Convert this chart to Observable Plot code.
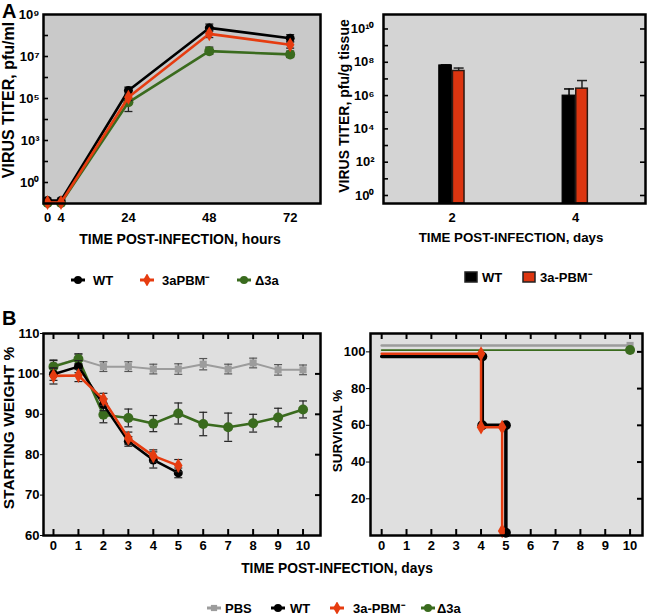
<!DOCTYPE html>
<html><head><meta charset="utf-8">
<script src="https://cdn.jsdelivr.net/npm/d3@7"></script>
<script src="https://cdn.jsdelivr.net/npm/@observablehq/plot@0.6"></script>
<style>
body{margin:0;background:#fff;font-family:"Liberation Sans",Arial,sans-serif;}
#fig{position:relative;width:650px;height:615px;overflow:hidden;background:#fff;}
.abs{position:absolute;font-weight:bold;color:#000;white-space:nowrap;line-height:1;}
</style></head><body><div id="fig"></div>
<script>
// ===== DATA =====
// Panel A left: virus titer in cell culture (pfu/ml)
const hoursA = [0, 4, 24, 48, 72];
const titerWT  = [1.4, 1.4, 2.4e5, 2.3e8, 7.4e7];
const titerPBM = [1.12, 1.12, 1.15e5, 1.2e8, 3.6e7];
const titerD3a = [1.05, 1.05, 6.6e4, 1.8e7, 1.26e7];
const loWT  = [null, null, 1.6e5, 1.6e8, 5e7];
const hiWT  = [null, null, 3.5e5, 3.5e8, 1.1e8];
const loPBM = [null, null, 8e4, 8e7, 2.5e7];
const hiPBM = [null, null, 1.6e5, 1.8e8, 5e7];
const loD3a = [null, null, 2.4e4, 1.26e7, 9e6];
const hiD3a = [null, null, 1e5, 2.8e7, 1.8e7];
const yTicksA1 = [1e9, 1e7, 1e5, 1e3, 1e1];
const yTickLabelsA1 = ["10⁹", "10⁷", "10⁵", "10³", "10⁰"];

// Panel A right: virus titer in lung (pfu/g tissue)
const daysA2 = [2, 4];
const organWT = [6.5e7, 1.0e6];
const organWThi = [7.0e7, 2.5e6];
const organPBM = [3.0e7, 2.6e6];
const organPBMhi = [4.5e7, 8.0e6];
const yTicksA2 = [1e10, 1e8, 1e6, 1e4, 1e2, 1e0];
const yTickLabelsA2 = ["10¹⁰", "10⁸", "10⁶", "10⁴", "10²", "10⁰"];

// Panel B left: starting weight %
const daysB = [0, 1, 2, 3, 4, 5, 6, 7, 8, 9, 10];
const weightPBS = [102.0, 103.7, 101.8, 101.8, 101.2, 101.2, 102.4, 101.2, 102.7, 101.0, 101.0];
const errPBS    = [1.5, 1.3, 1.2, 1.2, 1.2, 1.3, 1.4, 1.2, 1.2, 1.3, 1.2];
const weightD3a = [101.8, 103.7, 89.9, 89.1, 87.7, 90.2, 87.6, 86.8, 87.8, 89.2, 91.2];
const errD3a    = [1.5, 1.2, 2.0, 2.2, 2.0, 2.6, 2.9, 3.5, 2.2, 2.3, 2.1];
const weightWT  = [99.9, 101.8, 92.4, 83.3, 78.7, 75.5];
const errWT     = [1.5, 1.5, 1.5, 1.2, 2.0, 1.2];
const weightPBM = [99.5, 99.6, 93.7, 84.1, 79.7, 77.3];
const errPBM    = [2.0, 1.5, 1.5, 1.5, 1.5, 1.5];
const yTicksB1 = [60, 70, 80, 90, 100, 110];

// Panel B right: survival % (step curve vertices)
const survPBSDay = [0, 10],  survPBS = [103.5, 103.5];
const survD3aDay = [0, 10],  survD3a = [101, 101];
const survWTDay  = [0, 4.05, 4.05, 5, 5],   survWT  = [97.5, 97.5, 60, 60, 1.5];
const survPBMDay = [0, 4, 4, 4.85, 4.85],   survPBM = [99, 99, 59, 59, 2.5];
const yTicksB2 = [20, 40, 60, 80, 100];

// ===== STYLE =====
const FONT = '"Liberation Sans", Arial, Helvetica, sans-serif';
const C = {WT: "#000000", PBM: "#e63c10", D3a: "#3a6b1e", PBS: "#9c9c9c"};
const capSym = {draw(ctx, size) { const w = Math.sqrt(size / Math.PI); ctx.moveTo(-w, 0); ctx.lineTo(w, 0); }};
const baseStyle = {fontFamily: FONT, fontSize: "13px", fontWeight: "bold", background: "transparent", overflow: "visible"};
const fig = document.getElementById("fig");

function place(svg, left, top) { svg.style.position = "absolute"; svg.style.left = left + "px"; svg.style.top = top + "px"; fig.appendChild(svg); }
function text(t, x, y, size, mode) {
  const d = document.createElement("div");
  d.className = "abs"; d.textContent = t;
  d.style.left = x + "px"; d.style.top = y + "px"; d.style.fontSize = size + "px"; d.style.fontFamily = FONT;
  d.style.transform = mode === "rot" ? "translate(-50%,-50%) rotate(-90deg)" : mode === "center" ? "translate(-50%,-50%)" : "translate(0,-50%)";
  fig.appendChild(d);
}
function swatch(x, y, color, sym, r, lw) {
  const p = d3.symbol(sym, Math.PI * r * r)();
  const d = document.createElement("div");
  d.className = "abs"; d.style.left = x + "px"; d.style.top = y + "px"; d.style.transform = "translate(0,-50%)";
  d.innerHTML = `<svg width="16" height="12" style="display:block"><line x1="1" x2="15" y1="6" y2="6" stroke="${color}" stroke-width="${lw}"/><path transform="translate(8,6)" d="${p}" fill="${color}"/></svg>`;
  fig.appendChild(d);
}
function box(x, y, color) {
  const d = document.createElement("div");
  d.className = "abs"; d.style.left = x + "px"; d.style.top = y + "px"; d.style.transform = "translate(0,-50%)";
  d.innerHTML = `<svg width="14" height="12" style="display:block"><rect x="1" y="1" width="12" height="10" fill="${color}" stroke="#222" stroke-width="1.5"/></svg>`;
  fig.appendChild(d);
}

// ===== PANEL A LEFT =====
{
  const W = 330, H = 250, mL = 43, mR = 10, mT = 14, mB = 47;
  const iw = W - mL - mR;
  const series = [
    {name: "D3a", v: titerD3a, lo: loD3a, hi: hiD3a, sym: "circle", r: 5},
    {name: "WT",  v: titerWT,  lo: loWT,  hi: hiWT,  sym: "circle", r: 4.5},
    {name: "PBM", v: titerPBM, lo: loPBM, hi: hiPBM, sym: "diamond", r: 4.5}
  ];
  const marks = [Plot.frame({fill: "#c9c9c9"})];
  for (const s of series) {
    const rows = hoursA.map((h, i) => ({h, v: s.v[i], lo: s.lo[i], hi: s.hi[i]}));
    const err = rows.filter(d => d.lo != null);
    marks.push(
      Plot.ruleX(err, {x: "h", y1: "lo", y2: "hi", stroke: "#222", strokeWidth: 1.3}),
      Plot.dot(err, {x: "h", y: "lo", symbol: capSym, r: 4, stroke: "#222", strokeWidth: 1.3}),
      Plot.dot(err, {x: "h", y: "hi", symbol: capSym, r: 4, stroke: "#222", strokeWidth: 1.3}),
      Plot.line(rows, {x: "h", y: "v", stroke: C[s.name], strokeWidth: 2.6}),
      Plot.dot(rows, {x: "h", y: "v", fill: C[s.name], symbol: s.sym, r: s.r})
    );
  }
  const lab = new Map(yTicksA1.map((t, i) => [t, yTickLabelsA1[i]]));
  marks.push(
    Plot.tickY(d3.range(1, 9).map(e => 10 ** e), {y: d => d, insetRight: iw - 5, stroke: "#000", strokeWidth: 1.6}),
    Plot.axisY({ticks: yTicksA1, tickFormat: d => lab.get(d), tickSize: 0, tickPadding: 4, label: null, fontSize: 13}),
    Plot.axisX({ticks: hoursA, tickFormat: d3.format("d"), tickSize: 0, tickPadding: 9, label: null, fontSize: 13}),
    Plot.frame({stroke: "#000", strokeWidth: 2.5})
  );
  const svg = Plot.plot({width: W, height: H, marginLeft: mL, marginRight: mR, marginTop: mT, marginBottom: mB,
    style: baseStyle, x: {domain: [-1.2, 81]}, y: {type: "log", domain: [1, 1e9]}, marks});
  place(svg, 0, 0);
}

// ===== PANEL A RIGHT =====
{
  const W = 325, H = 250, mL = 58, mR = 5, mT = 14, mB = 47;
  const iw = W - mL - mR;
  const yMin = 0.33, yMax = 7.4e10;
  const bw = 0.21;
  const wt = daysA2.map((d, i) => ({d, v: organWT[i], hi: organWThi[i]}));
  const pbm = daysA2.map((d, i) => ({d, v: organPBM[i], hi: organPBMhi[i]}));
  const lab = new Map(yTicksA2.map((t, i) => [t, yTickLabelsA2[i]]));
  const marks = [
    Plot.frame({fill: "#d4d4d4"}),
    Plot.ruleX(wt, {x: d => d.d - bw / 2, y1: "v", y2: "hi", stroke: "#000", strokeWidth: 1.5}),
    Plot.dot(wt, {x: d => d.d - bw / 2, y: "hi", symbol: capSym, r: 5, stroke: "#000", strokeWidth: 1.5}),
    Plot.ruleX(pbm, {x: d => d.d + bw / 2, y1: "v", y2: "hi", stroke: "#222", strokeWidth: 1.5}),
    Plot.dot(pbm, {x: d => d.d + bw / 2, y: "hi", symbol: capSym, r: 5, stroke: "#222", strokeWidth: 1.5}),
    Plot.rectY(wt, {x1: d => d.d - bw, x2: d => d.d - 0.005, y1: yMin, y2: "v", fill: C.WT, stroke: "#000", strokeWidth: 1}),
    Plot.rectY(pbm, {x1: d => d.d + 0.012, x2: d => d.d + bw - 0.01, y1: yMin, y2: "v", fill: "#dc3510", stroke: "#2a1a14", strokeWidth: 1.5}),
    Plot.tickY(d3.range(0, 11).map(e => 10 ** e), {y: d => d, insetRight: iw - 5, stroke: "#000", strokeWidth: 1.6}),
    Plot.tickY(yTicksA2, {y: d => d, insetLeft: iw - 5, stroke: "#000", strokeWidth: 1.6}),
    Plot.axisY({ticks: yTicksA2, tickFormat: d => lab.get(d), tickSize: 0, tickPadding: 9, label: null, fontSize: 13}),
    Plot.axisX({ticks: daysA2, tickFormat: d3.format("d"), tickSize: 0, tickPadding: 9, label: null, fontSize: 13}),
    Plot.frame({stroke: "#000", strokeWidth: 2.5})
  ];
  const svg = Plot.plot({width: W, height: H, marginLeft: mL, marginRight: mR, marginTop: mT, marginBottom: mB,
    style: baseStyle, x: {domain: [0.886, 5.135]}, y: {type: "log", domain: [yMin, yMax]}, marks});
  place(svg, 325, 0);
}

// ===== PANEL B LEFT =====
{
  const W = 330, H = 300, mL = 43, mR = 10, mT = 33, mB = 65;
  const iw = W - mL - mR, ih = H - mT - mB;
  const series = [
    {name: "PBS", v: weightPBS, e: errPBS, sym: "square", r: 4, lw: 2, ec: "#555"},
    {name: "D3a", v: weightD3a, e: errD3a, sym: "circle", r: 5, lw: 2.6, ec: "#222"},
    {name: "WT",  v: weightWT,  e: errWT,  sym: "circle", r: 4.5, lw: 2.6, ec: "#222"},
    {name: "PBM", v: weightPBM, e: errPBM, sym: "diamond", r: 4.5, lw: 2.6, ec: "#222"}
  ];
  const marks = [Plot.frame({fill: "#dfdfdf"})];
  for (const s of series) {
    const rows = s.v.map((v, i) => ({d: daysB[i], v, lo: v - s.e[i], hi: v + s.e[i]}));
    marks.push(
      Plot.ruleX(rows, {x: "d", y1: "lo", y2: "hi", stroke: s.ec, strokeWidth: 1.2}),
      Plot.dot(rows, {x: "d", y: "lo", symbol: capSym, r: 4, stroke: s.ec, strokeWidth: 1.2}),
      Plot.dot(rows, {x: "d", y: "hi", symbol: capSym, r: 4, stroke: s.ec, strokeWidth: 1.2}),
      Plot.line(rows, {x: "d", y: "v", stroke: C[s.name], strokeWidth: s.lw}),
      Plot.dot(rows, {x: "d", y: "v", fill: C[s.name], symbol: s.sym, r: s.r})
    );
  }
  marks.push(
    Plot.tickX(daysB, {x: d => d, insetBottom: ih - 6, stroke: "#000", strokeWidth: 2}),
    Plot.tickX(daysB, {x: d => d, insetTop: ih - 6, stroke: "#000", strokeWidth: 2}),
    Plot.tickY(yTicksB1.slice(1, -1), {y: d => d, insetLeft: iw - 5, stroke: "#000", strokeWidth: 2}),
    Plot.axisY({ticks: yTicksB1, tickSize: 3, tickPadding: 1, label: null, fontSize: 13}),
    Plot.axisX({ticks: daysB, tickFormat: d3.format("d"), tickSize: 0, tickPadding: 5, label: null, fontSize: 13}),
    Plot.frame({stroke: "#000", strokeWidth: 2.5})
  );
  const svg = Plot.plot({width: W, height: H, marginLeft: mL, marginRight: mR, marginTop: mT, marginBottom: mB,
    style: baseStyle, x: {domain: [-0.4, 10.7]}, y: {domain: [60, 110]}, marks});
  place(svg, 0, 300);
}

// ===== PANEL B RIGHT =====
{
  const W = 325, H = 300, mL = 45, mR = 8, mT = 33, mB = 65;
  const iw = W - mL - mR, ih = H - mT - mB;
  const series = [
    {name: "PBS", d: survPBSDay, v: survPBS, sym: "square", r: 4, lw: 2.5},
    {name: "D3a", d: survD3aDay, v: survD3a, sym: "circle", r: 5, lw: 1.8},
    {name: "WT",  d: survWTDay,  v: survWT,  sym: "circle", r: 5, lw: 3.5},
    {name: "PBM", d: survPBMDay, v: survPBM, sym: "diamond", r: 4.5, lw: 2.5}
  ];
  const marks = [Plot.frame({fill: "#dfdfdf"})];
  for (const s of series) {
    const rows = s.d.map((d, i) => ({d, v: s.v[i]}));
    marks.push(
      Plot.line(rows, {x: "d", y: "v", stroke: C[s.name], strokeWidth: s.lw}),
      Plot.dot(rows.slice(1), {x: "d", y: "v", fill: C[s.name], symbol: s.sym, r: s.r})
    );
  }
  marks.push(
    Plot.tickX(daysB, {x: d => d, insetBottom: ih - 6, stroke: "#000", strokeWidth: 2}),
    Plot.tickX(daysB, {x: d => d, insetTop: ih - 6, stroke: "#000", strokeWidth: 2}),
    Plot.tickY(yTicksB2, {y: d => d, insetLeft: iw - 5, stroke: "#000", strokeWidth: 2}),
    Plot.axisY({ticks: yTicksB2, tickSize: 4, tickPadding: 1, label: null, fontSize: 13}),
    Plot.axisX({ticks: daysB, tickFormat: d3.format("d"), tickSize: 0, tickPadding: 5, label: null, fontSize: 13}),
    Plot.frame({stroke: "#000", strokeWidth: 2.5})
  );
  const svg = Plot.plot({width: W, height: H, marginLeft: mL, marginRight: mR, marginTop: mT, marginBottom: mB,
    style: baseStyle, x: {domain: [-0.45, 10.5]}, y: {domain: [0, 110]}, marks});
  place(svg, 325, 300);
}

// ===== TEXT: panel letters, axis titles, legends =====
text("A", 2, 11, 20);
text("B", 2, 318, 20);
text("VIRUS TITER, pfu/ml", 9, 100, 16, "rot");
text("TIME POST-INFECTION, hours", 180, 239, 14, "center");
text("VIRUS TITER, pfu/g tissue", 344, 106, 14, "rot");
text("TIME POST-INFECTION, days", 511, 238, 13.3, "center");
text("STARTING WEIGHT %", 9, 428, 15.5, "rot");
text("SURVIVAL  %", 338, 431, 13.5, "rot");
text("TIME POST-INFECTION, days", 337, 569, 13.8, "center");

// legend A left
swatch(70, 280, C.WT, d3.symbolCircle, 4, 3);   text("WT", 93, 280, 13);
swatch(139, 280, C.PBM, d3.symbolDiamond, 4, 3); text("3aPBM⁻", 162, 280, 13);
swatch(236, 280, C.D3a, d3.symbolCircle, 4, 3); text("Δ3a", 255, 280, 13);
// legend A right
box(464, 277, "#000"); text("WT", 482, 277, 13);
box(522, 277, "#dc3510"); text("3a-PBM⁻", 540, 277, 13);
// legend B
swatch(206, 608, C.PBS, d3.symbolSquare, 3.5, 3); text("PBS", 225, 608, 13);
swatch(270, 608, C.WT, d3.symbolCircle, 4, 3);   text("WT", 290, 608, 13);
swatch(329, 608, C.PBM, d3.symbolDiamond, 4, 3); text("3a-PBM⁻", 353, 608, 13);
swatch(420, 608, C.D3a, d3.symbolCircle, 4, 3);  text("Δ3a", 437, 608, 13);
</script></body></html>
